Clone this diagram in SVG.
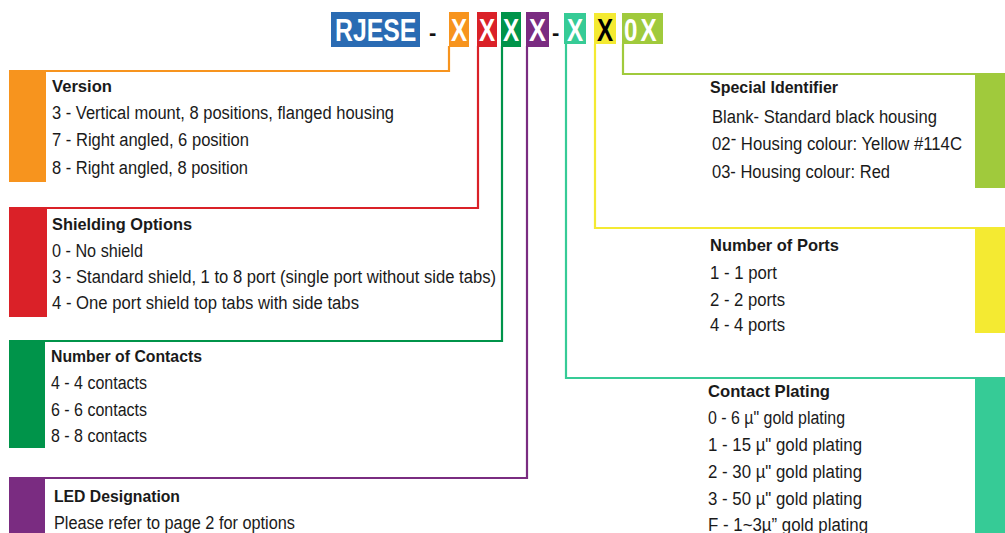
<svg xmlns="http://www.w3.org/2000/svg" width="1005" height="533" viewBox="0 0 1005 533">
<style>
text{font-family:"Liberation Sans",Arial,sans-serif;font-size:18px;fill:#1a1a1a}
.h{font-weight:bold;font-size:17px}
.big{font-weight:bold;font-size:31px;fill:#fff}
.dash{font-weight:bold;font-size:22px;fill:#111}
.c{fill:none;stroke-width:2.2}
</style>
<rect width="1005" height="533" fill="#fff"/>
<g id="header">
<rect x="331" y="12" width="89" height="35" fill="#2a6bb3"/>
<text class="big" transform="translate(335,41) scale(0.8,1)">RJESE</text>
<text class="dash" x="429" y="40">-</text>
<rect x="449" y="12" width="20" height="35" fill="#f7941e"/>
<text class="big" transform="translate(451,41) scale(0.78,1)">X</text>
<rect x="477" y="12" width="20" height="35" fill="#da2128"/>
<text class="big" transform="translate(479,41) scale(0.78,1)">X</text>
<rect x="501" y="12" width="20" height="35" fill="#00944a"/>
<text class="big" transform="translate(503,41) scale(0.78,1)">X</text>
<rect x="526" y="12" width="23" height="35" fill="#7a2c81"/>
<text class="big" transform="translate(529,41) scale(0.82,1)">X</text>
<text class="dash" x="552" y="40">-</text>
<rect x="564" y="13" width="22" height="31" fill="#36cb96"/>
<text class="big" transform="translate(567,41) scale(0.78,1)">X</text>
<rect x="594" y="13" width="22" height="31" fill="#f4ea32"/>
<text class="big" transform="translate(597,41) scale(0.78,1)" style="fill:#000">X</text>
<rect x="622" y="13" width="41" height="31" fill="#a0ca3c"/>
<text class="big" transform="translate(624,41) scale(0.78,1)" letter-spacing="4">0X</text>
</g>
<g id="connectors">
<path class="c" stroke="#f7941e" d="M449,46 V71 H9"/>
<path class="c" stroke="#da2128" d="M478,46 V208 H9"/>
<path class="c" stroke="#00944a" d="M502,46 V341 H9"/>
<path class="c" stroke="#7a2c81" d="M527,46 V478 H9"/>
<path class="c" stroke="#36cb96" d="M566,44 V378 H1005"/>
<path class="c" stroke="#f4ea32" d="M595,44 V228 H1005"/>
<path class="c" stroke="#a0ca3c" d="M623,44 V74 H1005"/>
</g>
<g id="version">
<rect x="9" y="71" width="37" height="111" fill="#f7941e"/>
<text class="h" x="52" y="92" textLength="60" lengthAdjust="spacingAndGlyphs">Version</text>
<text x="52" y="119" textLength="342" lengthAdjust="spacingAndGlyphs">3 - Vertical mount, 8 positions, flanged housing</text>
<text x="52" y="146" textLength="197" lengthAdjust="spacingAndGlyphs">7 - Right angled, 6 position</text>
<text x="52" y="174" textLength="196" lengthAdjust="spacingAndGlyphs">8 - Right angled, 8 position</text>
</g>
<g id="shielding">
<rect x="9" y="208" width="38" height="109" fill="#da2128"/>
<text class="h" x="52" y="230" textLength="140" lengthAdjust="spacingAndGlyphs">Shielding Options</text>
<text x="52" y="257" textLength="91" lengthAdjust="spacingAndGlyphs">0 - No shield</text>
<text x="52" y="283" textLength="444" lengthAdjust="spacingAndGlyphs">3 - Standard shield, 1 to 8 port (single port without side tabs)</text>
<text x="52" y="309" textLength="307" lengthAdjust="spacingAndGlyphs">4 - One port shield top tabs with side tabs</text>
</g>
<g id="contacts">
<rect x="9" y="341" width="36" height="107" fill="#00944a"/>
<text class="h" x="51" y="362" textLength="151" lengthAdjust="spacingAndGlyphs">Number of Contacts</text>
<text x="51" y="389" textLength="96" lengthAdjust="spacingAndGlyphs">4 - 4 contacts</text>
<text x="51" y="416" textLength="96" lengthAdjust="spacingAndGlyphs">6 - 6 contacts</text>
<text x="51" y="442" textLength="96" lengthAdjust="spacingAndGlyphs">8 - 8 contacts</text>
</g>
<g id="led">
<rect x="9" y="478" width="36" height="55" fill="#7a2c81"/>
<text class="h" x="54" y="502" textLength="126" lengthAdjust="spacingAndGlyphs">LED Designation</text>
<text x="54" y="529" textLength="241" lengthAdjust="spacingAndGlyphs">Please refer to page 2 for options</text>
</g>
<g id="special">
<rect x="975" y="74" width="30" height="114" fill="#a0ca3c"/>
<text class="h" x="710" y="93" textLength="128" lengthAdjust="spacingAndGlyphs">Special Identifier</text>
<text x="712" y="123" textLength="225" lengthAdjust="spacingAndGlyphs">Blank- Standard black housing</text>
<text x="712" y="150" textLength="250" lengthAdjust="spacingAndGlyphs">02<tspan dy="-5">-</tspan><tspan dy="5"> Housing colour: Yellow #114C</tspan></text>
<text x="712" y="178" textLength="178" lengthAdjust="spacingAndGlyphs">03- Housing colour: Red</text>
</g>
<g id="ports">
<rect x="975" y="228" width="30" height="105" fill="#f4ea32"/>
<text class="h" x="710" y="251" textLength="129" lengthAdjust="spacingAndGlyphs">Number of Ports</text>
<text x="710" y="279" textLength="67" lengthAdjust="spacingAndGlyphs">1 - 1 port</text>
<text x="710" y="306" textLength="75" lengthAdjust="spacingAndGlyphs">2 - 2 ports</text>
<text x="710" y="331" textLength="75" lengthAdjust="spacingAndGlyphs">4 - 4 ports</text>
</g>
<g id="plating">
<rect x="975" y="378" width="30" height="155" fill="#36cb96"/>
<text class="h" x="708" y="397" textLength="122" lengthAdjust="spacingAndGlyphs">Contact Plating</text>
<text x="708" y="424" textLength="137" lengthAdjust="spacingAndGlyphs">0 - 6 µ" gold plating</text>
<text x="708" y="451" textLength="154" lengthAdjust="spacingAndGlyphs">1 - 15 µ" gold plating</text>
<text x="708" y="478" textLength="154" lengthAdjust="spacingAndGlyphs">2 - 30 µ" gold plating</text>
<text x="708" y="505" textLength="154" lengthAdjust="spacingAndGlyphs">3 - 50 µ" gold plating</text>
<text x="708" y="531" textLength="160" lengthAdjust="spacingAndGlyphs">F - 1~3µ” gold plating</text>
</g>
</svg>
